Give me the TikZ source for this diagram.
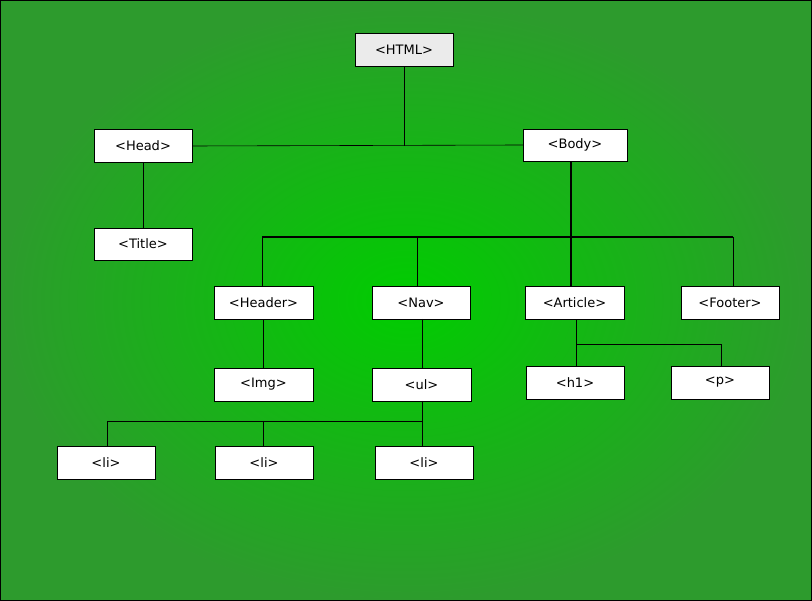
\documentclass[tikz,border=0pt]{standalone}
\usepackage{fontspec}
\setmainfont{DejaVu Sans}
\begin{document}
\begin{tikzpicture}[x=1pt,y=-1pt,
  box/.style={draw=black,fill=white,minimum height=33pt,inner sep=0pt,font=\fontsize{13}{15}\selectfont},
  thin/.style={draw=black,line width=0.6pt},
  thick/.style={draw=black,line width=1.8pt}]
\definecolor{gin}{RGB}{0,205,0}
\definecolor{gout}{RGB}{45,155,45}
\fill[inner color=gin,outer color=gout] (0,0) rectangle (812,601);
\useasboundingbox (0,0) rectangle (812,601);
\draw[line width=1pt] (0.5,0.5) rectangle (811.5,600.5);
\node[box,fill=black!8,minimum width=98pt] (html) at (404,50) {<HTML>};
\node[box,minimum width=98pt] (head) at (143,146) {<Head>};
\node[box,minimum width=104pt,minimum height=32pt] (body) at (575,145) {<Body>};
\node[box,minimum width=98pt,minimum height=32pt] (title) at (143,244) {<Title>};
\node[box,minimum width=99pt] (header) at (263.5,302.5) {<Header>};
\node[box,minimum width=98pt] (nav) at (421,302.5) {<Nav>};
\node[box,minimum width=99pt] (article) at (574.5,302.5) {<Article>};
\node[box,minimum width=98pt] (footer) at (730,302.5) {<Footer>};
\node[box,minimum width=99pt] (img) at (263.5,384.5) {<Img>};
\node[box,minimum width=99pt] (ul) at (421.5,384.5) {<ul>};
\node[box,minimum width=98pt] (h1) at (575,382.5) {<h1>};
\node[box,minimum width=98pt] (p) at (720,382.5) {<p>};
\node[box,minimum width=98pt] (li1) at (106,462.5) {<li>};
\node[box,minimum width=98pt] (li2) at (264,462.5) {<li>};
\node[box,minimum width=98pt] (li3) at (424,462.5) {<li>};
\coordinate (hj) at (404,146);
\draw[thin] (html.south) -- (hj);
\draw[thin] (head.east) -- (body.west);
\draw[thin] (head.south) -- (title.north);
\coordinate (bj) at (571,237);
\draw[thick] (body.south -| bj) -- (bj);
\draw[thick] (262,237) -- (733,237);
\draw[thin] (262,237) -- (262,286);
\draw[thin] (417,237) -- (417,286);
\draw[thick] (bj) -- (article.north -| bj);
\draw[thin] (733,237) -- (733,286);
\draw[thin] (article.south -| 576,0) -- (576,366);
\draw[thin] (576,344) -- (721,344) -- (721,366);
\draw[thin] (header.south) -- (img.north);
\draw[thin] (422,319) -- (422,368);
\draw[thin] (422,401) -- (422,446);
\draw[thin] (107,446) -- (107,421) -- (422,421);
\draw[thin] (263,421) -- (263,446);
\end{tikzpicture}
\end{document}
